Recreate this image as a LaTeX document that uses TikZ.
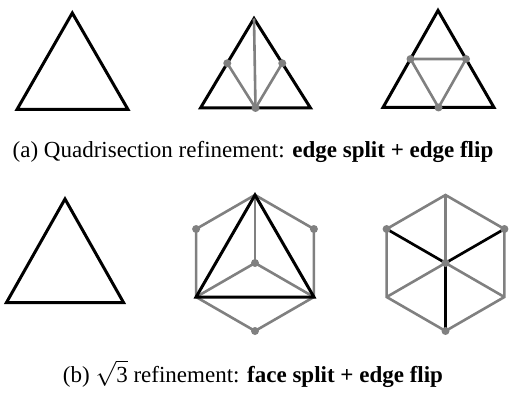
\documentclass[tikz,border=0pt]{standalone}
\usepackage{fontspec}
\setmainfont{Liberation Serif}
\usepackage{tikz}
\usetikzlibrary{calc}
\definecolor{newgray}{RGB}{128,128,128}

\begin{document}
\begin{tikzpicture}[x=1pt,y=1pt,line join=miter,
  oldedge/.style={line width=3pt,black},
  newedge/.style={line width=2.6pt,newgray},
  vert/.style={circle,fill=newgray,inner sep=0pt,minimum size=8pt},
  caption/.style={font=\fontsize{23}{27}\selectfont,anchor=base}]
  \useasboundingbox (0,0) rectangle (510,-395);
  % (a) input triangle
  \coordinate (ia) at (72.3,-13);
  \coordinate (ib) at (17,-109.5);
  \coordinate (ic) at (128,-109.5);
  \draw[oldedge] (ia) -- (ib) -- (ic) -- cycle;
  % (a) edge split
  \coordinate (sa) at (254,-18.5);
  \coordinate (sb) at (200.5,-108);
  \coordinate (sc) at (310.5,-108);
  \draw[oldedge] (sa) -- (sb) -- (sc) -- cycle;
  \coordinate (sab) at ($(sa)!0.5!(sb)$);
  \coordinate (sac) at ($(sa)!0.5!(sc)$);
  \coordinate (sbc) at ($(sb)!0.5!(sc)$);
  \draw[newedge] (sa) -- (sbc);
  \draw[newedge] (sab) -- (sbc) -- (sac);
  \foreach \p in {sab,sac,sbc} \node[vert] (d\p) at (\p) {};
  % (a) edge flip
  \coordinate (fa) at (438,-10.5);
  \coordinate (fb) at (383,-107.5);
  \coordinate (fc) at (494,-107.5);
  \draw[oldedge] (fa) -- (fb) -- (fc) -- cycle;
  \coordinate (fab) at ($(fa)!0.5!(fb)$);
  \coordinate (fac) at ($(fa)!0.5!(fc)$);
  \coordinate (fbc) at ($(fb)!0.5!(fc)$);
  \draw[newedge] (fab) -- (fac) -- (fbc) -- cycle;
  \foreach \p in {fab,fac,fbc} \node[vert] (d\p) at (\p) {};
  \node[caption] (capa) at (253,-158)
     {(a) Quadrisection refinement: \textbf{edge split + edge flip}};

  % (b) input triangle
  \coordinate (ja) at (65,-199);
  \coordinate (jb) at (6.5,-302.5);
  \coordinate (jc) at (123.5,-302.5);
  \draw[oldedge] (ja) -- (jb) -- (jc) -- cycle;
  % (b) face split: h0 top, counter-clockwise
  \coordinate (hc) at (255,-263);
  \foreach \i in {0,...,5} \coordinate (h\i) at ($(hc)+(90+60*\i:68)$);
  \draw[newedge] (h0) -- (h1) -- (h2) -- (h3) -- (h4) -- (h5) -- cycle;
  \foreach \i in {0,2,4} \draw[newedge] (hc) -- (h\i);
  \draw[oldedge] (h0) -- (h2) -- (h4) -- cycle;
  \foreach \p in {h1,h3,h5,hc} \node[vert] (d\p) at (\p) {};
  % (b) edge flip
  \coordinate (gc) at (445.5,-263);
  \foreach \i in {0,...,5} \coordinate (g\i) at ($(gc)+(90+60*\i:68)$);
  \draw[newedge] (g0) -- (g1) -- (g2) -- (g3) -- (g4) -- (g5) -- cycle;
  \foreach \i in {0,2,4} \draw[newedge] (gc) -- (g\i);
  \foreach \i in {1,3,5} \draw[oldedge,line width=2.7pt] (gc) -- (g\i);
  \foreach \p in {g1,g3,g5,gc} \node[vert] (d\p) at (\p) {};
  \node[caption] (capb) at (253,-382)
     {(b) $\sqrt{\mbox{3}}$ refinement: \textbf{face split + edge flip}};
\end{tikzpicture}
\end{document}
